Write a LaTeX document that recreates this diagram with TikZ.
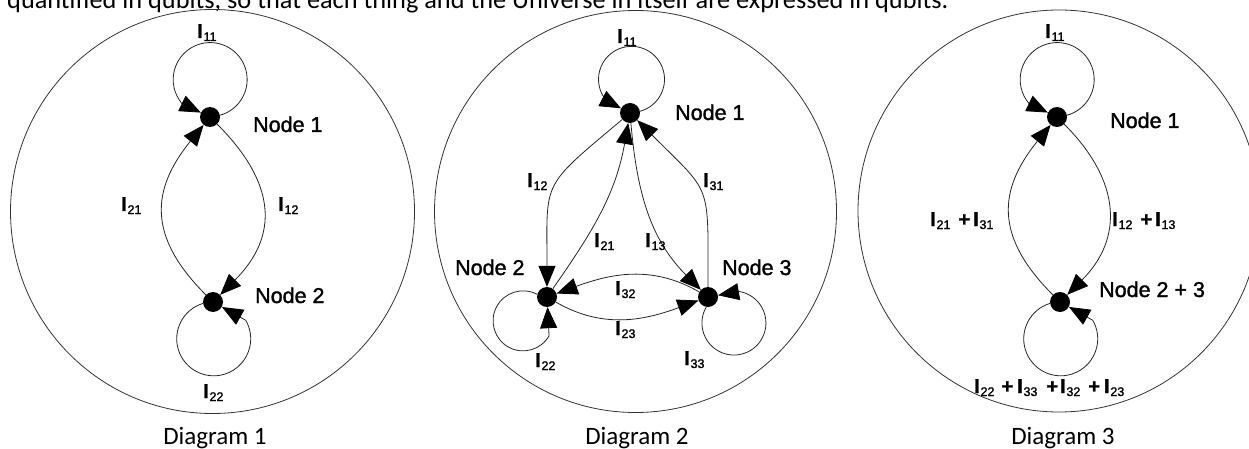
\documentclass[tikz,border=0pt]{standalone}
\usepackage{fontspec}
\setmainfont{Liberation Sans}[FakeBold=1.5]
\newfontfamily\calfont{Carlito}
\usetikzlibrary{arrows.meta}
\newcommand\Is[1]{{\bfseries I}\kern0.8pt\raisebox{-3pt}{\fontsize{12.5}{12.5}\selectfont #1}}
\newcommand\pl{{\bfseries +}}
\begin{document}
\begin{tikzpicture}[x=1pt,y=1pt,
  dot/.style={circle, fill=black, inner sep=0pt, minimum size=20pt},
  arr/.style={draw=black!85, line width=0.8pt, -{Triangle[length=21pt,width=17pt,line join=miter,color=black]}},
  ring/.style={draw=black!80, line width=0.8pt},
  lbl/.style={inner sep=0pt, anchor=base west, font=\fontsize{20}{20}\selectfont},
  nlbl/.style={inner sep=0pt, anchor=base west, font=\fontsize{21.5}{21.5}\selectfont},
  captxt/.style={inner sep=0pt, anchor=base, font=\calfont\fontsize{25}{25}\selectfont}]
\clip (0,0) rectangle (1249,-449);
\useasboundingbox (0,0) rectangle (1249,-449);

% top (cut) line of text
\node[inner sep=0pt, anchor=base west, font=\calfont\fontsize{26.3}{26.3}\selectfont] (toptext) at (7,-9)
  {quantified in qubits, so that each thing and the Universe in itself are expressed in qubits.};

% outer circles
\draw[ring] (212.5,-211.5) circle[radius=202];
\draw[ring] (635.5,-211.5) circle[radius=201];
\draw[ring] (1059,-211) circle[radius=201];

% ---------- Diagram 1 ----------
\node[dot] (p1) at (210,-117) {};
\node[dot] (p2) at (213,-302) {};
\draw[arr] (p1.10) arc[start angle=-74.5, end angle=220, radius=37] -- (p1);
\draw[arr] (p2.188) arc[start angle=107, end angle=390, radius=37] -- (p2);
\draw[arr] (p1) to[out=-45, in=45, looseness=1.25] (p2);
\draw[arr] (p2) to[out=135, in=-129, looseness=1.25] (p1);
\node[lbl] (p11) at (197,-38) {\Is{11}};
\node[lbl] (p21) at (121,-211) {\Is{21}};
\node[lbl] (p12) at (278,-211) {\Is{12}};
\node[lbl] (p22) at (203,-398) {\Is{22}};
\node[nlbl] (pn1) at (253,-132) {Node 1};
\node[nlbl] (pn2) at (255,-303) {Node 2};
\node[captxt] (pc) at (215,-444) {Diagram 1};

% ---------- Diagram 2 ----------
\node[dot] (q1) at (630,-113) {};
\node[dot] (q2) at (547,-297) {};
\node[dot] (q3) at (708,-297) {};
\draw[arr] (q1.10) arc[start angle=-75, end angle=220, radius=33] -- (q1);
\draw[arr] (q2.165) arc[start angle=62, end angle=330, radius=30] -- (q2);
\draw[arr] (q3.260) arc[start angle=150, end angle=440, radius=32] -- (q3);
\draw[arr] (q1) to[out=-140, in=90, looseness=1.5] (q2);
\draw[arr] (q3) to[out=90, in=-45, looseness=1.5] (q1);
\draw[arr] (q2) to[out=55, in=-100] (q1);
\draw[arr] (q1) to[out=-85, in=135] (q3);
\draw[arr] (q3) to[out=150, in=20] (q2);
\draw[arr] (q2) to[out=-30, in=200] (q3);
\node[lbl] (q11) at (617,-43) {\Is{11}};
\node[lbl] (q12) at (527,-187) {\Is{12}};
\node[lbl] (q31) at (703,-187) {\Is{31}};
\node[lbl] (q21) at (594,-247) {\Is{21}};
\node[lbl] (q13) at (645,-247) {\Is{13}};
\node[lbl] (q32) at (615,-295) {\Is{32}};
\node[lbl] (q23) at (615,-335) {\Is{23}};
\node[lbl] (q22) at (535,-367) {\Is{22}};
\node[lbl] (q33) at (684,-365) {\Is{33}};
\node[nlbl] (qn1) at (675,-120) {Node 1};
\node[nlbl] (qn2) at (455,-275) {Node 2};
\node[nlbl] (qn3) at (722,-275) {Node 3};
\node[captxt] (qc) at (637,-444) {Diagram 2};

% ---------- Diagram 3 ----------
\node[dot] (r1) at (1057,-117) {};
\node[dot] (r2) at (1060,-302) {};
\draw[arr] (r1.10) arc[start angle=-74.5, end angle=220, radius=37] -- (r1);
\draw[arr] (r2.188) arc[start angle=107, end angle=390, radius=37] -- (r2);
\draw[arr] (r1) to[out=-45, in=45, looseness=1.2] (r2);
\draw[arr] (r2) to[out=135, in=-129, looseness=1.25] (r1);
\node[lbl] (r11) at (1045,-38) {\Is{11}};
\node[lbl] (rl) at (930,-226) {\Is{21}\hspace{8pt}\pl\hspace{3pt}\Is{31}};
\node[lbl] (rr) at (1112,-226) {\Is{12}\hspace{8pt}\pl\hspace{3pt}\Is{13}};
\node[lbl] (rb) at (974,-393) {\Is{22}\hspace{7pt}\pl\hspace{4pt}\Is{33}\hspace{9pt}\pl\hspace{2pt}\Is{32}\hspace{8pt}\pl\hspace{4pt}\Is{23}};
\node[nlbl] (rn1) at (1110,-128) {Node 1};
\node[nlbl] (rn2) at (1099,-297) {Node 2 + 3};
\node[captxt] (rc) at (1063,-444) {Diagram 3};
\end{tikzpicture}
\end{document}
